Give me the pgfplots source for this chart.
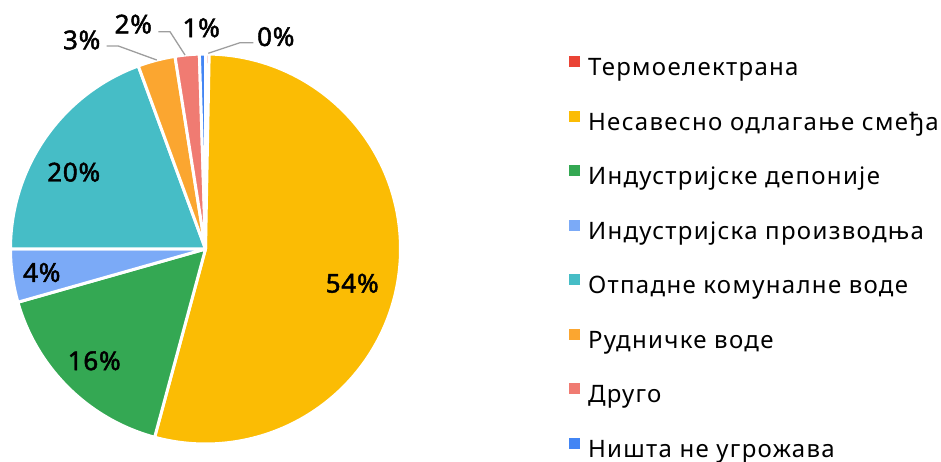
\documentclass[border=0pt]{standalone}
\usepackage{fontspec}
\setmainfont{Noto Sans}[LetterSpace=5.5]
\newfontfamily\lblfont{Noto Sans}[FakeBold=1.8, LetterSpace=3]
\usepackage{pgfplots}
\usepackage{pgfplotstable}
\pgfplotsset{compat=1.18}

\definecolor{cRed}{HTML}{EA4335}
\definecolor{cYellow}{HTML}{FBBC04}
\definecolor{cGreen}{HTML}{34A853}
\definecolor{cLBlue}{HTML}{7BAAF7}
\definecolor{cTeal}{HTML}{46BDC6}
\definecolor{cOrange}{HTML}{FBA630}
\definecolor{cPink}{HTML}{F07B72}
\definecolor{cBlue}{HTML}{4285F4}
\definecolor{cLead}{HTML}{9E9E9E}

% share of each category (percent), clockwise from 12 o'clock
\pgfplotstableread{
value col
0.3 cRed
53.9 cYellow
16.4 cGreen
4.4 cLBlue
19.4 cTeal
3.1 cOrange
2.0 cPink
0.5 cBlue
}\piedata

\begin{document}
\begin{tikzpicture}[x=1pt,y=1pt]
\useasboundingbox (0,0) rectangle (941,462);
\clip (0,0) rectangle (941,462);
\begin{axis}[
  at={(205.5pt,213pt)}, anchor=origin,
  width=390pt, height=390pt, scale only axis,
  xmin=-1, xmax=1, ymin=-1, ymax=1,
  hide axis, clip=false,
  legend image code/.code={\fill[#1, draw=none] (0pt,2.5pt) rectangle (11pt,13.5pt);},
  legend cell align=left,
  legend style={draw=none, fill=none,
    at={(1.424,1.0)}, anchor=north west,
    font=\fontsize{24}{24}\selectfont,
    nodes={inner xsep=0pt, inner ysep=0pt, text height=18pt, text depth=6pt},
    row sep=29pt,
    /tikz/every odd column/.append style={column sep=8pt}},
]
\pgfmathsetmacro{\cum}{0}
\pgfplotsforeachungrouped \i in {0,...,7}{%
  \pgfplotstablegetelem{\i}{value}\of\piedata \let\v=\pgfplotsretval
  \pgfplotstablegetelem{\i}{col}\of\piedata \let\c=\pgfplotsretval
  \pgfmathsetmacro{\a}{90-3.6*\cum}%
  \pgfmathsetmacro{\b}{90-3.6*(\cum+\v)}%
  \edef\temp{\noexpand\filldraw[fill=\c, draw=white, line width=3pt, line join=round] (axis cs:0,0) -- (axis cs:{cos(\a)},{sin(\a)}) arc[start angle=\a, end angle=\b, radius=195pt] -- cycle;}%
  \temp
  \pgfmathsetmacro{\cum}{\cum+\v}%
}
\addlegendimage{fill=cRed}\addlegendentry{Термоелектрана}
\addlegendimage{fill=cYellow}\addlegendentry{Несавесно одлагање смеђа}
\addlegendimage{fill=cGreen}\addlegendentry{Индустријске депоније}
\addlegendimage{fill=cLBlue}\addlegendentry{Индустријска производња}
\addlegendimage{fill=cTeal}\addlegendentry{Отпадне комуналне воде}
\addlegendimage{fill=cOrange}\addlegendentry{Рудничке воде}
\addlegendimage{fill=cPink}\addlegendentry{Друго}
\addlegendimage{fill=cBlue}\addlegendentry{Ништа не угрожава}
\end{axis}
\begin{scope}[every node/.style={font=\lblfont\fontsize{26}{26}\selectfont, inner sep=0pt}]
\node at (352.2,178.7) {54\%};
\node at (94.2,101.2) {16\%};
\node at (41.8,189.5) {4\%};
\node at (73.7,289.8) {20\%};
\node at (81.7,422) {3\%};
\node at (133.3,437.8) {2\%};
\node at (201.2,434.2) {1\%};
\node at (275.8,425.3) {0\%};
\end{scope}
\draw[cLead, line width=1.3pt] (106.7,416)--(118.3,416)--(156.7,402);
\draw[cLead, line width=1.3pt] (158.3,430.3)--(170,430.3)--(185,407);
\draw[cLead, line width=1.3pt] (253.3,419.3)--(240,419.3)--(208.3,408.7);
\end{tikzpicture}
\end{document}
